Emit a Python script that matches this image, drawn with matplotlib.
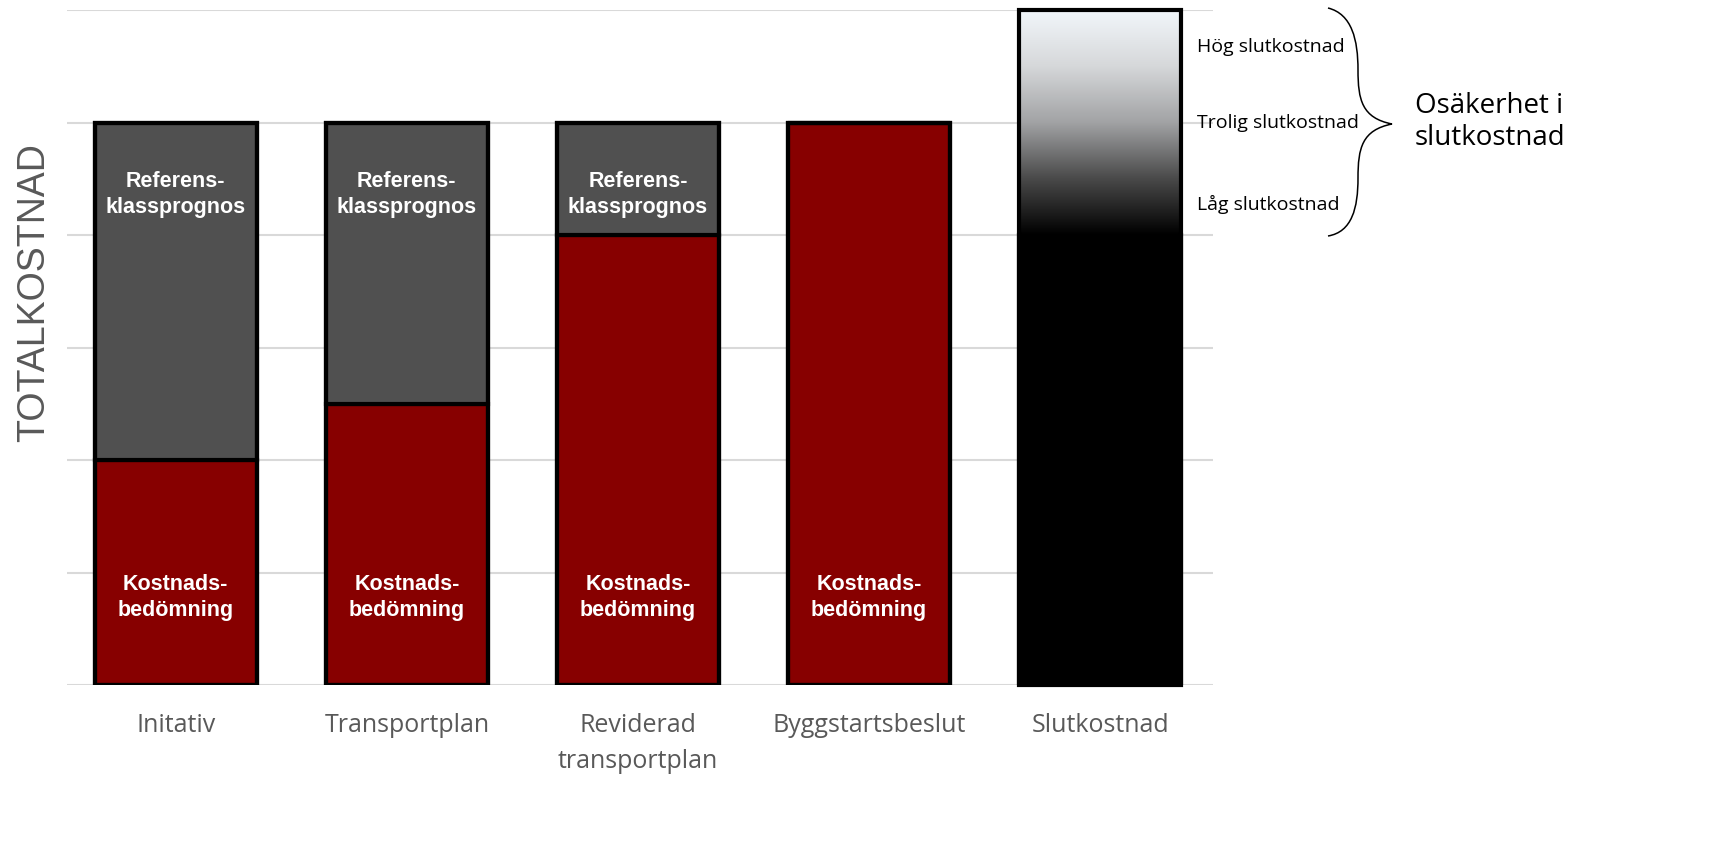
import numpy as np
import matplotlib
matplotlib.use("Agg")
import matplotlib.pyplot as plt
from matplotlib.colors import LinearSegmentedColormap
from matplotlib.path import Path
from matplotlib.patches import PathPatch

# --- Data ---
kategorier = ["Initativ", "Transportplan", "Reviderad\ntransportplan",
              "Byggstartsbeslut", "Slutkostnad"]
kostnadsbedomning = [2.0, 2.5, 4.0, 5.0]      # röd del
referensklass = [3.0, 2.5, 1.0, 0.0]          # grå del ovanpå
slut_lag = 4.0        # låg slutkostnad (svart del)
slut_hog = 6.0        # hög slutkostnad (toppen av gradienten)
omraden = ["Hög slutkostnad", "Trolig slutkostnad", "Låg slutkostnad"]
omraden_y = [5.67, 5.0, 4.27]

ROD = "#870000"
GRA = "#505050"
TEXTGRA = "#595959"

fig = plt.figure(figsize=(17.11, 8.48), dpi=100)
ax = fig.add_axes([0.0392, 0.1922, 0.6700, 0.7960])

x = np.arange(len(kategorier))
bredd = 0.70

# Grid
ax.set_ylim(0, 6)
ax.set_xlim(-0.47, 4.49)
ax.set_yticks(np.arange(0, 7))
ax.yaxis.grid(True, color="#d9d9d9", linewidth=1.5)
ax.set_axisbelow(True)
ax.tick_params(axis="y", left=False, labelleft=False)
ax.tick_params(axis="x", bottom=False, pad=17)
for s in ax.spines.values():
    s.set_visible(False)

# Staplade staplar
ax.bar(x[:4], kostnadsbedomning, bredd, color=ROD, edgecolor="black",
       linewidth=3, zorder=3)
ax.bar(x[:4], referensklass, bredd, bottom=kostnadsbedomning, color=GRA,
       edgecolor="black", linewidth=3, zorder=3)
# yttre ram
ax.bar(x[:4], np.array(kostnadsbedomning) + np.array(referensklass), bredd,
       color="none", edgecolor="black", linewidth=3, zorder=4)

for i in range(4):
    ax.text(x[i], 0.78, "Kostnads-\nbedömning", ha="center", va="center",
            color="white", fontsize=15.5, fontweight="bold",
            family="Liberation Sans", linespacing=1.3, zorder=5)
    if referensklass[i] > 0:
        top = kostnadsbedomning[i] + referensklass[i]
        ax.text(x[i], top - 0.64, "Referens-\nklassprognos", ha="center",
                va="center", color="white", fontsize=15.5, fontweight="bold",
                family="Liberation Sans", linespacing=1.3, zorder=5)

# Slutkostnad: svart + gradient
xs = x[4]
ax.bar(xs, slut_lag, bredd, color="black", edgecolor="black", linewidth=3,
       zorder=3)
cmap = LinearSegmentedColormap.from_list(
    "slut", [(0.0, "#000000"), (0.25, "#4a4a4a"), (0.5, "#a2a3a5"),
             (0.75, "#d6d8da"), (1.0, "#f2f7fb")])
grad = np.linspace(0, 1, 256).reshape(-1, 1)
ax.imshow(grad, cmap=cmap, origin="lower", aspect="auto",
          extent=[xs - bredd / 2, xs + bredd / 2, slut_lag, slut_hog],
          zorder=3)
ax.bar(xs, slut_hog, bredd, color="none", edgecolor="black", linewidth=3,
       zorder=4, clip_on=False)
ax.set_xlim(-0.47, 4.49)
ax.set_ylim(0, 6)

ax.set_xticks(x)
ax.set_xticklabels(kategorier, fontsize=18, color=TEXTGRA, family="Open Sans",
                   linespacing=1.55, va="top")

for txt, yy in zip(omraden, omraden_y):
    ax.text(4.42, yy, txt, ha="left", va="center", fontsize=14,
            color="black", family="Open Sans", clip_on=False)

# Y-axeltitel
fig.text(0.020, 0.655, "TOTALKOSTNAD", rotation=90, ha="center", va="center",
         fontsize=27, color=TEXTGRA, family="Liberation Sans")

# Klammerparentes (pixelkoordinater)
ov = fig.add_axes([0, 0, 1, 1], facecolor="none")
ov.set_xlim(0, 1711)
ov.set_ylim(848, 0)
ov.axis("off")
verts = [(1328, 8), (1352, 14), (1358, 40), (1358, 70),
         (1358, 100), (1362, 118), (1392, 124),
         (1362, 130), (1358, 148), (1358, 178),
         (1358, 208), (1352, 232), (1328, 236)]
codes = [Path.MOVETO] + [Path.CURVE4] * 12
ov.add_patch(PathPatch(Path(verts, codes), facecolor="none",
                       edgecolor="black", linewidth=1.1))
ov.text(1415, 122, "Osäkerhet i\nslutkostnad", ha="left", va="center",
        fontsize=20, family="Open Sans", color="black", linespacing=1.2)

fig.savefig("out.png", dpi=100)
